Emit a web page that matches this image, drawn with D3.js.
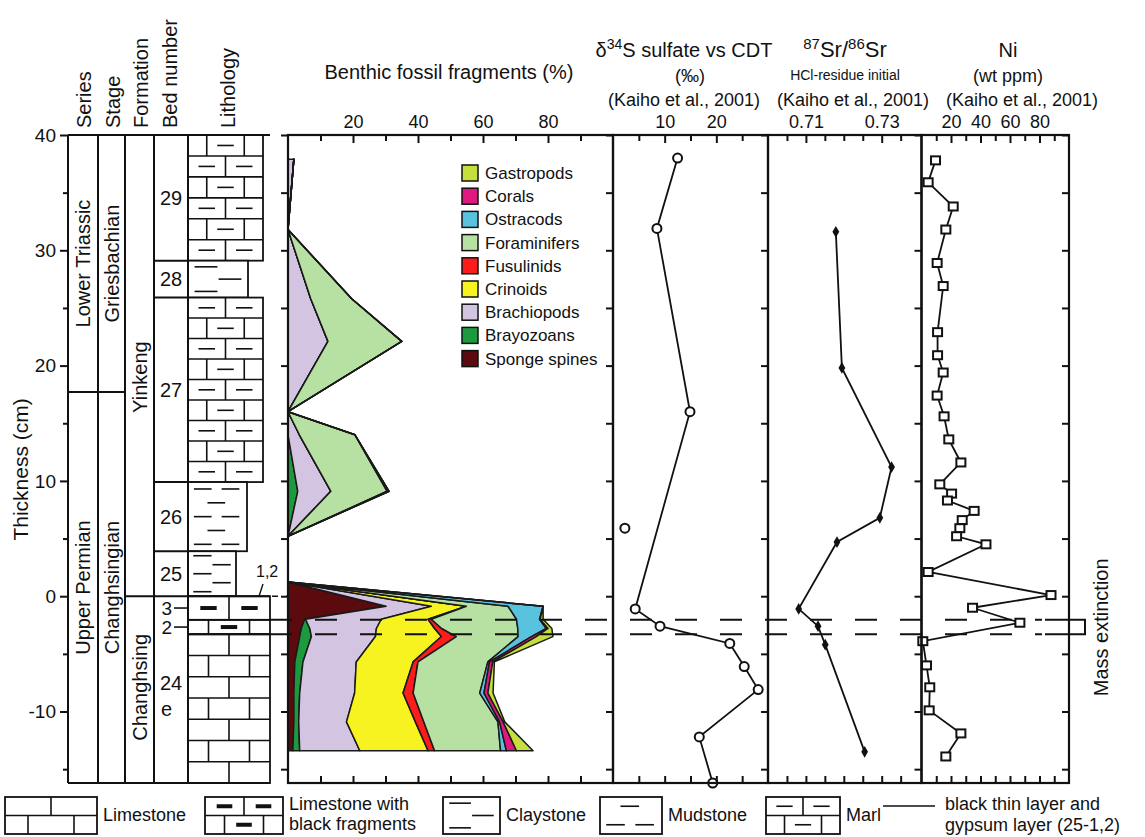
<!DOCTYPE html>
<html>
<head>
<meta charset="utf-8">
<script src="https://cdn.jsdelivr.net/npm/d3@7"></script>
<style>
  body { margin: 0; background: #fff; }
  text { font-family: "Liberation Sans", Arial, Helvetica, sans-serif; fill: #111; }
</style>
</head>
<body>
<svg id="chart" width="1145" height="837"></svg>
<script>
// ============================================================
// DATA
// ============================================================

// benthic taxa, stacking order from the left edge
const TAXA = ['Sponge spines', 'Brayozoans', 'Brachiopods', 'Crinoids', 'Fusulinids',
  'Foraminifers', 'Ostracods', 'Corals', 'Gastropods'];
const LEGEND_ORDER = ['Gastropods', 'Corals', 'Ostracods', 'Foraminifers', 'Fusulinids',
  'Crinoids', 'Brachiopods', 'Brayozoans', 'Sponge spines'];

// Triassic part (beds 26-29), % per taxon
const upperDepth = [37.9, 31.8, 25.8, 22.1, 16.0, 14.0, 9.1, 5.2];
const upperBrayozoans = [0, 0, 0, 0, 0, 0, 3.0, 0];
const upperBrachiopods = [1.8, 0, 7.0, 12.3, 0, 3.5, 10.2, 0];
const upperForaminifers = [0, 0, 12.6, 22.7, 0, 17.1, 17.3, 0];
const upperOstracods = [0, 0, 0, 0, 0, 0, 0.6, 0];

// Permian part (beds 24-3), % per taxon
const lowerDepth = [1.24, -0.87, -2.0, -2.8, -3.5, -5.7, -8.4, -10.9, -13.4];
const lowerSponge = [0, 30.2, 5.1, 4.1, 3.6, 2.1, 1.8, 1.8, 1.5];
const lowerBrayozoans = [0, 0, 0.3, 2.6, 3.6, 2.5, 1.8, 1.5, 2.1];
const lowerBrachiopods = [0, 13.9, 23.3, 20.5, 19.7, 16.4, 16.9, 14.7, 18.5];
const lowerCrinoids = [0, 10.8, 14.4, 17.9, 20.3, 17.5, 14.9, 21.2, 21.0];
const lowerFusulinids = [0, 0, 1.0, 2.2, 4.6, 1.5, 3.1, 2.6, 2.0];
const lowerForaminifers = [0, 12.8, 26.2, 23.4, 19.0, 21.5, 20.5, 22.8, 20.3];
const lowerOstracods = [0, 10.8, 7.1, 8.8, 4.1, 0.5, 1.3, 0.5, 1.8];
const lowerCorals = [0, 0, 0.2, 0.5, 1.5, 1.0, 1.2, 1.1, 3.1];
const lowerGastropods = [0, 0, 0.9, 1.2, 5.1, 0.5, 1.6, 0.5, 5.1];

// d34S sulfate (permil)
const sulfurDepth = [38.0, 31.9, 16.0, -1.1, -2.6, -4.1, -6.1, -8.1, -12.2, -16.2];
const sulfurValue = [12.5, 8.5, 14.9, 4.3, 9.1, 22.6, 25.4, 28.1, 16.7, 19.3];
const sulfurLooseDepth = [5.9];
const sulfurLooseValue = [2.3];

// 87Sr/86Sr
const srDepth = [31.6, 19.8, 11.2, 6.8, 4.7, -1.1, -2.6, -4.2, -13.5];
const srValue = [0.7179, 0.7195, 0.7326, 0.7295, 0.7182, 0.7081, 0.7132, 0.7151, 0.7255];

// Ni (wt ppm)
const niDepth = [37.8, 35.9, 33.8, 31.8, 28.9, 26.9, 22.9, 20.9, 19.4, 17.4, 15.6, 13.6, 11.6,
  9.7, 8.9, 8.3, 7.4, 6.6, 5.9, 5.2, 4.5, 2.1, 0.1, -1.0, -2.3, -3.9, -6.0, -7.9, -9.9, -11.9, -13.9];
const niValue = [9.5, 4.5, 21.5, 16.5, 10.6, 14.7, 10.9, 10.9, 14.7, 10.6, 15.3, 18.5, 26.7,
  12.4, 20.4, 17.6, 35.7, 27.6, 26.0, 23.8, 43.7, 4.5, 87.8, 34.6, 66.7, 0.9, 3.4, 5.6, 5.2, 26.7, 16.5];

// stratigraphy
const seriesNames = ['Lower Triassic', 'Upper Permian'];
const stageNames = ['Griesbachian', 'Changhsingian'];
const seriesBounds = [40, 17.7, -16.2];
const formationNames = ['Yinkeng', 'Changhsing'];
const formationBounds = [40, 0, -16.2];
const formationLabelDepth = [19, -7.9];

const bedNames = ['29', '28', '27', '26', '25', '3', '2', '24'];
const bedTop = [40, 29.1, 25.9, 9.9, 3.9, 0, -2.05, -3.3];
const bedBase = [29.1, 25.9, 9.9, 3.9, 0, -2.05, -3.3, -16.2];
const bedRock = ['marl', 'claystone', 'marl', 'mudstone', 'claystone', 'blackLimestone', 'blackLimestone', 'limestone'];

const massExtinction = [-2.05, -3.3];

const rockNames = ['limestone', 'blackLimestone', 'claystone', 'mudstone', 'marl'];
const rockLabels = [['Limestone'], ['Limestone with', 'black fragments'], ['Claystone'], ['Mudstone'], ['Marl']];

// ============================================================
// STYLE / LAYOUT
// ============================================================
const COLORS = {
  'Gastropods': '#c6df3c', 'Corals': '#e0197f', 'Ostracods': '#58c2df',
  'Foraminifers': '#b6e1a2', 'Fusulinids': '#fb1c1c', 'Crinoids': '#f6f321',
  'Brachiopods': '#d3c5e2', 'Brayozoans': '#1e9a3e', 'Sponge spines': '#5b0b0d'
};
// lithology drawing per bed: width of the column, brick parity / dash count
const BED_STYLE = {
  '29': { w: 75, parity: 1 }, '28': { w: 60, n: 3 }, '27': { w: 75, parity: 0 },
  '26': { w: 59, n: 5, parity: 0 }, '25': { w: 48, n: 5 }, '3': { w: 82, parity: 0 },
  '2': { w: 82, parity: 1 }, '24': { w: 82, parity: 0 }
};

const TOP = 135, BOTTOM = 783;
const COL_X = [68, 98, 125, 154, 188];
const y = d3.scaleLinear().domain([40, -16.2]).range([TOP, BOTTOM]);

const svg = d3.select('#chart');

function line(g, x1, y1, x2, y2, sw) {
  return g.append('line').attr('x1', x1).attr('y1', y1).attr('x2', x2).attr('y2', y2)
    .attr('stroke', '#111').attr('stroke-width', sw || 1.6);
}

// ============================================================
// LITHOLOGY PATTERNS
// ============================================================
function bricks(g, x0, x1, y0, y1, nRows, parity, fill) {
  const w = x1 - x0, rh = (y1 - y0) / nRows;
  for (let i = 0; i < nRows; i++) {
    const top = y0 + i * rh, bot = top + rh;
    const odd = (i + parity) % 2 === 1;
    const divs = odd ? [x0 + w * 0.25, x0 + w * 0.75] : [x0 + w * 0.5];
    divs.forEach(x => line(g, x, top, x, bot));
    if (i > 0) line(g, x0, top, x1, top);
    if (fill) {
      const centers = odd ? [x0 + w * 0.5] : [x0 + w * 0.25, x0 + w * 0.75];
      centers.forEach(c => line(g, c - fill.len / 2, (top + bot) / 2, c + fill.len / 2, (top + bot) / 2, fill.sw));
    }
  }
}

function drawRock(g, rock, x0, x1, y0, y1, opt) {
  const w = x1 - x0, h = y1 - y0;
  g.append('rect').attr('x', x0).attr('y', y0).attr('width', w).attr('height', h)
    .attr('fill', '#fff').attr('stroke', '#111').attr('stroke-width', 1.8);
  const rows = opt.rows || Math.max(1, Math.round(h / 21));
  if (rock === 'limestone') bricks(g, x0, x1, y0, y1, rows, opt.parity || 0, null);
  if (rock === 'blackLimestone') bricks(g, x0, x1, y0, y1, rows, opt.parity || 0, { len: w * 0.2, sw: 4 });
  if (rock === 'marl') bricks(g, x0, x1, y0, y1, rows, opt.parity || 0, { len: w * 0.22, sw: 1.6 });
  if (rock === 'claystone') {
    const n = opt.n || 3, len = w * 0.38;
    for (let k = 0; k < n; k++) {
      const cy = y0 + (k + 0.5) * h / n, cx = x0 + w * (k % 2 ? 0.7 : 0.3);
      line(g, cx - len / 2, cy, cx + len / 2, cy);
    }
  }
  if (rock === 'mudstone') {
    const n = opt.n || 2, len = w * 0.3;
    for (let k = 0; k < n; k++) {
      const cy = y0 + (k + 0.5) * h / n;
      const cs = (k + (opt.parity || 0)) % 2 ? [0.48] : [0.25, 0.72];
      cs.forEach(c => line(g, x0 + w * c - len / 2, cy, x0 + w * c + len / 2, cy));
    }
  }
}

// ============================================================
// LEFT COLUMNS (series, stage, formation, bed, lithology)
// ============================================================
const gCol = svg.append('g');

// lithology beds
bedNames.forEach((b, i) => {
  const st = BED_STYLE[b];
  drawRock(gCol, bedRock[i], COL_X[4], COL_X[4] + st.w, y(bedTop[i]), y(bedBase[i]), st);
});

// column frame
COL_X.forEach(x => line(gCol, x, TOP, x, BOTTOM, 2));
line(gCol, COL_X[0], TOP, 270, TOP, 2);
line(gCol, COL_X[0], BOTTOM, 270, BOTTOM, 2);

// series / stage
seriesNames.forEach((name, i) => {
  const mid = y((seriesBounds[i] + seriesBounds[i + 1]) / 2);
  gCol.append('text').attr('transform', `translate(${(COL_X[0] + COL_X[1]) / 2 + 7},${mid}) rotate(-90)`)
    .attr('text-anchor', 'middle').attr('font-size', 20).text(name);
  gCol.append('text').attr('transform', `translate(${(COL_X[1] + COL_X[2]) / 2 + 7},${mid}) rotate(-90)`)
    .attr('text-anchor', 'middle').attr('font-size', 20).text(stageNames[i]);
});
line(gCol, COL_X[0], y(seriesBounds[1]), COL_X[2], y(seriesBounds[1]), 2);

// formation
formationNames.forEach((name, i) => {
  gCol.append('text').attr('transform', `translate(${(COL_X[2] + COL_X[3]) / 2 + 7},${y(formationLabelDepth[i])}) rotate(-90)`)
    .attr('text-anchor', 'middle').attr('font-size', 20).text(name);
});
line(gCol, COL_X[2], y(formationBounds[1]), 270, y(formationBounds[1]), 2);
// thin layer 1,2 continues past the column
line(gCol, 272, y(0), 288, y(0), 1.6).attr('stroke-dasharray', '6,8');

// bed numbers
bedNames.forEach((b, i) => {
  const mid = y((bedTop[i] + bedBase[i]) / 2);
  if (b === '3' || b === '2') {
    gCol.append('text').attr('x', 172).attr('y', mid + 7).attr('text-anchor', 'end').attr('font-size', 19).text(b);
    line(gCol, 174, mid, COL_X[4], mid, 1.6);
  } else if (b === '24') {
    gCol.append('text').attr('x', 160).attr('y', y(-7.6) + 6).attr('font-size', 20).text(b);
    gCol.append('text').attr('x', 161).attr('y', y(-9.8) + 7).attr('font-size', 20).text('e');
  } else {
    gCol.append('text').attr('x', 171).attr('y', mid + 7).attr('text-anchor', 'middle').attr('font-size', 20).text(b);
  }
  if (i > 0 && bedTop[i] > 0) line(gCol, COL_X[3], y(bedTop[i]), COL_X[4], y(bedTop[i]), 2);
});

// thin layer marker
gCol.append('text').attr('x', 256).attr('y', 577).attr('font-size', 16).text('1,2');
line(gCol, 263, 584, 259, y(0), 1.4);

// column headers
const headers = [['Series', 84], ['Stage', 113], ['Formation', 141], ['Bed number', 170], ['Lithology', 228]];
headers.forEach(([t, x]) => {
  svg.append('text').attr('transform', `translate(${x + 7},128) rotate(-90)`)
    .attr('font-size', 20).text(t);
});

// depth axis
const gAxis = svg.append('g').attr('transform', `translate(${COL_X[0]},0)`);
gAxis.call(d3.axisLeft(y).tickValues([40, 30, 20, 10, 0, -10]).tickSize(8).tickPadding(4).tickFormat(d => String(d)));
gAxis.append('g').call(d3.axisLeft(y).tickValues([35, 25, 15, 5, -5, -15]).tickSize(5).tickFormat(''));
gAxis.selectAll('.domain').remove();
gAxis.selectAll('line').attr('stroke', '#111').attr('stroke-width', 2);
gAxis.selectAll('text').attr('font-size', 19).attr('fill', '#111')
  .style('font-family', '"Liberation Sans", Arial, sans-serif');

svg.append('text').attr('transform', `translate(28,${y(11)}) rotate(-90)`)
  .attr('text-anchor', 'middle').attr('font-size', 21).text('Thickness (cm)');

// ============================================================
// PANELS
// ============================================================
const xBen = d3.scaleLinear().domain([0, 100]).range([288, 613]);
const xS = d3.scaleLinear().domain([0, 30]).range([613, 768]);
const xSr = d3.scaleLinear().domain([0.700, 0.7405]).range([768, 921.5]);
const xNi = d3.scaleLinear().domain([0, 100]).range([921.5, 1069]);

const panels = [
  { x: xBen, major: [20, 40, 60, 80], minor: [10, 30, 50, 70, 90], fmt: d => d },
  { x: xS, major: [10, 20], minor: [5, 15, 25], fmt: d => d },
  { x: xSr, major: [0.71, 0.73], minor: [0.705, 0.715, 0.72, 0.725, 0.735], fmt: d3.format('.2f') },
  { x: xNi, major: [20, 40, 60, 80], minor: [10, 30, 50, 70, 90], fmt: d => d }
];

function styleAxis(g) {
  g.selectAll('.domain').remove();
  g.selectAll('line').attr('stroke', '#111').attr('stroke-width', 2);
  g.selectAll('text').attr('font-size', 18).attr('fill', '#111')
    .style('font-family', '"Liberation Sans", Arial, sans-serif');
}

// ============================================================
// BENTHIC STACKED AREAS
// ============================================================
function sectionRows(depths, series) {
  return depths.map((d, i) => {
    const row = { depth: d };
    TAXA.forEach(t => { row[t] = series[t] ? series[t][i] : 0; });
    return row;
  });
}
const upperRows = sectionRows(upperDepth, {
  'Brayozoans': upperBrayozoans, 'Brachiopods': upperBrachiopods,
  'Foraminifers': upperForaminifers, 'Ostracods': upperOstracods
});
const lowerRows = sectionRows(lowerDepth, {
  'Sponge spines': lowerSponge, 'Brayozoans': lowerBrayozoans, 'Brachiopods': lowerBrachiopods,
  'Crinoids': lowerCrinoids, 'Fusulinids': lowerFusulinids, 'Foraminifers': lowerForaminifers,
  'Ostracods': lowerOstracods, 'Corals': lowerCorals, 'Gastropods': lowerGastropods
});

const stack = d3.stack().keys(TAXA);
const area = d3.area()
  .y(d => y(d.data.depth))
  .x0(d => xBen(d[0]))
  .x1(d => xBen(d[1]));

const gBen = svg.append('g');
[upperRows, lowerRows].forEach(rows => {
  gBen.selectAll(null)
    .data(stack(rows))
    .enter()
    .append('path')
    .attr('d', area)
    .attr('fill', d => COLORS[d.key])
    .attr('stroke', '#1a1a1a')
    .attr('stroke-width', 1.5)
    .attr('stroke-linejoin', 'round');
});

// legend
const gLeg = svg.append('g');
LEGEND_ORDER.forEach((t, i) => {
  const yy = 165 + i * 23.2;
  gLeg.append('rect').attr('x', 462).attr('y', yy).attr('width', 16).attr('height', 16)
    .attr('fill', COLORS[t]).attr('stroke', '#111').attr('stroke-width', 1.5);
  gLeg.append('text').attr('x', 485).attr('y', yy + 14).attr('font-size', 17).text(t);
});

// ============================================================
// GEOCHEMISTRY LINES
// ============================================================
const gGeo = svg.append('g');

// d34S
gGeo.append('path')
  .datum(sulfurDepth.map((d, i) => [sulfurValue[i], d]))
  .attr('d', d3.line().x(d => xS(d[0])).y(d => y(d[1])))
  .attr('fill', 'none').attr('stroke', '#111').attr('stroke-width', 1.8);
gGeo.selectAll(null)
  .data(sulfurDepth.map((d, i) => [sulfurValue[i], d]).concat(sulfurLooseDepth.map((d, i) => [sulfurLooseValue[i], d])))
  .enter().append('circle')
  .attr('cx', d => xS(d[0])).attr('cy', d => y(d[1])).attr('r', 4.5)
  .attr('fill', '#fff').attr('stroke', '#111').attr('stroke-width', 2);

// Sr
const srPts = srDepth.map((d, i) => [srValue[i], d]);
gGeo.append('path')
  .datum(srPts)
  .attr('d', d3.line().x(d => xSr(d[0])).y(d => y(d[1])))
  .attr('fill', 'none').attr('stroke', '#111').attr('stroke-width', 1.8);
gGeo.selectAll(null).data(srPts).enter().append('path')
  .attr('d', d3.symbol(d3.symbolDiamond, 40))
  .attr('transform', d => `translate(${xSr(d[0])},${y(d[1])})`)
  .attr('fill', '#111');

// Ni
const niPts = niDepth.map((d, i) => [niValue[i], d]);
gGeo.append('path')
  .datum(niPts)
  .attr('d', d3.line().x(d => xNi(d[0])).y(d => y(d[1])))
  .attr('fill', 'none').attr('stroke', '#111').attr('stroke-width', 1.8);
gGeo.selectAll(null).data(niPts).enter().append('rect')
  .attr('x', d => xNi(d[0]) - 4.5).attr('y', d => y(d[1]) - 4)
  .attr('width', 9).attr('height', 8)
  .attr('fill', '#fff').attr('stroke', '#111').attr('stroke-width', 2);

// ============================================================
// PANEL FRAMES & AXES
// ============================================================
const gFrame = svg.append('g');
panels.forEach(p => {
  const [x0, x1] = p.x.range();
  gFrame.append('rect').attr('x', x0).attr('y', TOP).attr('width', x1 - x0).attr('height', BOTTOM - TOP)
    .attr('fill', 'none').attr('stroke', '#111').attr('stroke-width', 2.2);

  const top = gFrame.append('g').attr('transform', `translate(0,${TOP})`);
  top.call(d3.axisTop(p.x).tickValues(p.major).tickSizeInner(-8).tickSizeOuter(0).tickPadding(7).tickFormat(p.fmt));
  top.append('g').call(d3.axisTop(p.x).tickValues(p.minor).tickSizeInner(-6).tickSizeOuter(0).tickFormat(''));
  styleAxis(top);

  const bot = gFrame.append('g').attr('transform', `translate(0,${BOTTOM})`);
  bot.call(d3.axisBottom(p.x).tickValues(p.major.concat(p.minor)).tickSizeInner(-7).tickSizeOuter(0).tickFormat(''));
  styleAxis(bot);
});
[288, 613, 768, 921.5, 1069].forEach(x => {
  const g = gFrame.append('g').attr('transform', `translate(${x},0)`);
  g.call(d3.axisLeft(y).tickValues(d3.range(40, -16, -5)).tickSize(7).tickFormat(''));
  styleAxis(g);
});

// mass extinction dashed lines + bracket
massExtinction.forEach(d => {
  line(svg, COL_X[4], y(d), 270, y(d), 1.8);
  line(svg, 270, y(d), 1042, y(d), 2).attr('stroke-dasharray', '22,23');
});
svg.append('path')
  .attr('d', `M1045,${y(massExtinction[0])}H1085V${y(massExtinction[1])}H1045`)
  .attr('fill', 'none').attr('stroke', '#111').attr('stroke-width', 2);
svg.append('text').attr('transform', `translate(1108,${y(-2.7)}) rotate(-90)`)
  .attr('text-anchor', 'middle').attr('font-size', 20).text('Mass extinction');

// ============================================================
// PANEL TITLES
// ============================================================
svg.append('text').attr('x', 449).attr('y', 79).attr('text-anchor', 'middle').attr('font-size', 20)
  .text('Benthic fossil fragments (%)');

const tS = svg.append('text').attr('x', 684).attr('y', 57).attr('text-anchor', 'middle').attr('font-size', 20);
tS.append('tspan').text('δ');
tS.append('tspan').attr('font-size', 14).attr('dy', -8).text('34');
tS.append('tspan').attr('dy', 8).text('S sulfate vs CDT');
svg.append('text').attr('x', 690).attr('y', 82).attr('text-anchor', 'middle').attr('font-size', 18).text('(‰)');
svg.append('text').attr('x', 684).attr('y', 106).attr('text-anchor', 'middle').attr('font-size', 18).text('(Kaiho et al., 2001)');

const tSr = svg.append('text').attr('x', 845).attr('y', 57).attr('text-anchor', 'middle').attr('font-size', 22);
tSr.append('tspan').attr('font-size', 15).attr('dy', -8).text('87');
tSr.append('tspan').attr('dy', 8).text('Sr/');
tSr.append('tspan').attr('font-size', 15).attr('dy', -8).text('86');
tSr.append('tspan').attr('dy', 8).text('Sr');
svg.append('text').attr('x', 845).attr('y', 80).attr('text-anchor', 'middle').attr('font-size', 14).text('HCl-residue initial');
svg.append('text').attr('x', 853).attr('y', 106).attr('text-anchor', 'middle').attr('font-size', 18).text('(Kaiho et al., 2001)');

svg.append('text').attr('x', 1008).attr('y', 57).attr('text-anchor', 'middle').attr('font-size', 20).text('Ni');
svg.append('text').attr('x', 1008).attr('y', 82).attr('text-anchor', 'middle').attr('font-size', 18).text('(wt ppm)');
svg.append('text').attr('x', 1022).attr('y', 106).attr('text-anchor', 'middle').attr('font-size', 18).text('(Kaiho et al., 2001)');

// ============================================================
// LITHOLOGY LEGEND (bottom)
// ============================================================
const gKey = svg.append('g');
const keyBoxes = [[5, 97], [205, 283], [443, 500], [600, 662], [766, 840]];
const keyOpts = [{ rows: 2, parity: 0 }, { rows: 2, parity: 0 }, { n: 3 }, { n: 2, parity: 1 }, { rows: 2, parity: 0 }];
rockNames.forEach((r, i) => {
  const [a, b] = keyBoxes[i];
  drawRock(gKey, r, a, b, 797, 834, keyOpts[i]);
  const lbl = rockLabels[i];
  lbl.forEach((t, k) => {
    gKey.append('text').attr('x', b + 6)
      .attr('y', lbl.length > 1 ? 810 + k * 20 : 821)
      .attr('font-size', 18).text(t);
  });
});
line(gKey, 883, 806, 935, 806, 1.5);
gKey.append('text').attr('x', 945).attr('y', 810).attr('font-size', 18).text('black thin layer and');
gKey.append('text').attr('x', 945).attr('y', 831).attr('font-size', 18).text('gypsum layer (25-1,2)');
</script>
</body>
</html>
